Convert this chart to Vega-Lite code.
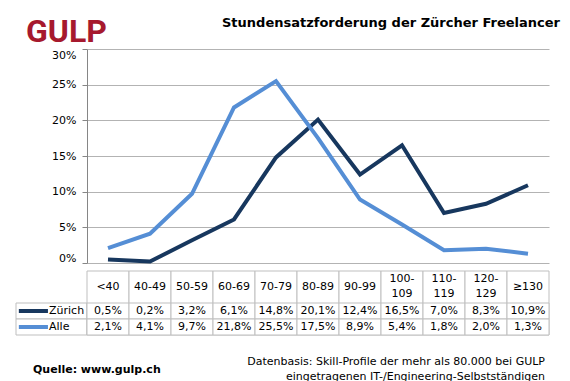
{
  "$schema": "https://vega.github.io/schema/vega-lite/v6.json",
  "background": "white",
  "padding": {"left": 15, "top": 16, "right": 10, "bottom": 5},
  "config": {
    "font": "DejaVu Sans",
    "locale": {"number": {"decimal": ",", "thousands": ".", "grouping": [3], "currency": ["", " CHF"]}},
    "view": {"stroke": null},
    "text": {"font": "DejaVu Sans", "fontSize": 11, "color": "#000000"}
  },
  "datasets": {
    "rates": [
      {"cat": "<40", "label": "<40", "series": "Zürich", "value": 0.005},
      {"cat": "40-49", "label": "40-49", "series": "Zürich", "value": 0.002},
      {"cat": "50-59", "label": "50-59", "series": "Zürich", "value": 0.032},
      {"cat": "60-69", "label": "60-69", "series": "Zürich", "value": 0.061},
      {"cat": "70-79", "label": "70-79", "series": "Zürich", "value": 0.148},
      {"cat": "80-89", "label": "80-89", "series": "Zürich", "value": 0.201},
      {"cat": "90-99", "label": "90-99", "series": "Zürich", "value": 0.124},
      {"cat": "100-109", "label": "100-\n109", "series": "Zürich", "value": 0.165},
      {"cat": "110-119", "label": "110-\n119", "series": "Zürich", "value": 0.070},
      {"cat": "120-129", "label": "120-\n129", "series": "Zürich", "value": 0.083},
      {"cat": "≥130", "label": "≥130", "series": "Zürich", "value": 0.109},
      {"cat": "<40", "label": "<40", "series": "Alle", "value": 0.021},
      {"cat": "40-49", "label": "40-49", "series": "Alle", "value": 0.041},
      {"cat": "50-59", "label": "50-59", "series": "Alle", "value": 0.097},
      {"cat": "60-69", "label": "60-69", "series": "Alle", "value": 0.218},
      {"cat": "70-79", "label": "70-79", "series": "Alle", "value": 0.255},
      {"cat": "80-89", "label": "80-89", "series": "Alle", "value": 0.175},
      {"cat": "90-99", "label": "90-99", "series": "Alle", "value": 0.089},
      {"cat": "100-109", "label": "100-\n109", "series": "Alle", "value": 0.054},
      {"cat": "110-119", "label": "110-\n119", "series": "Alle", "value": 0.018},
      {"cat": "120-129", "label": "120-\n129", "series": "Alle", "value": 0.020},
      {"cat": "≥130", "label": "≥130", "series": "Alle", "value": 0.013}
    ]
  },
  "spacing": 0,
  "vconcat": [
    {
      "bounds": "flush",
      "spacing": 0,
      "hconcat": [
        {
          "width": 71,
          "height": 214,
          "title": {
            "text": "GULP", "anchor": "start", "frame": "group",
            "font": "Roboto", "fontSize": 32, "fontWeight": "bold", "color": "#a6192e",
            "baseline": "alphabetic", "offset": -25, "dx": 10
          },
          "data": {"values": []},
          "mark": "point"
        },
        {
          "width": 462,
          "height": 214,
          "title": {
            "text": "Stundensatzforderung der Zürcher Freelancer",
            "anchor": "end", "frame": "group", "fontSize": 13, "fontWeight": "bold",
            "color": "#000000", "baseline": "alphabetic", "offset": 9, "dx": 11
          },
          "data": {"name": "rates"},
          "mark": {"type": "line", "strokeWidth": 4},
          "encoding": {
            "x": {
              "field": "cat", "type": "nominal",
              "sort": ["<40", "40-49", "50-59", "60-69", "70-79", "80-89", "90-99", "100-109", "110-119", "120-129", "≥130"],
              "scale": {"type": "point", "padding": 0.5},
              "axis": null
            },
            "y": {
              "field": "value", "type": "quantitative",
              "scale": {"domain": [0, 0.3]},
              "axis": {
                "format": ".0%", "values": [0, 0.05, 0.1, 0.15, 0.2, 0.25, 0.3], "title": null,
                "grid": true, "gridColor": "#b3b3b3", "domainColor": "#868686", "tickColor": "#868686",
                "tickSize": 5, "labelPadding": 6, "labelFontSize": 11, "labelFont": "DejaVu Sans",
                "labelColor": "#000000", "labelFlush": true
              }
            },
            "color": {
              "field": "series", "type": "nominal",
              "scale": {"domain": ["Zürich", "Alle"], "range": ["#17375e", "#558ed5"]},
              "legend": null
            }
          }
        }
      ]
    },
    {
      "bounds": "flush",
      "spacing": 0,
      "hconcat": [
        {
          "width": 71,
          "height": 64,
          "data": {"name": "rates"},
          "transform": [{"filter": "datum.cat === '<40'"}],
          "title": {
            "text": "Quelle: www.gulp.ch", "orient": "bottom", "anchor": "start", "frame": "group",
            "fontSize": 11, "fontWeight": "bold", "color": "#000000", "offset": 28, "dx": 17
          },
          "encoding": {
            "y": {
              "field": "series", "type": "nominal",
              "scale": {"type": "band", "domain": ["h1", "h2", "Zürich", "Alle"], "paddingInner": 0, "paddingOuter": 0},
              "axis": null
            }
          },
          "layer": [
            {"mark": {"type": "rect", "fill": "white", "stroke": "#bfbfbf", "strokeWidth": 1}},
            {
              "mark": {"type": "rule", "strokeWidth": 4},
              "encoding": {
                "x": {"datum": 0.04, "type": "quantitative", "scale": {"domain": [0, 1]}, "axis": null},
                "x2": {"datum": 0.45},
                "color": {
                  "field": "series", "type": "nominal",
                  "scale": {"domain": ["Zürich", "Alle"], "range": ["#17375e", "#558ed5"]},
                  "legend": null
                }
              }
            },
            {
              "mark": {"type": "text", "align": "left"},
              "encoding": {
                "x": {"datum": 0.465, "type": "quantitative"},
                "text": {"field": "series"}
              }
            }
          ]
        },
        {
          "width": 462,
          "height": 64,
          "data": {"name": "rates"},
          "title": {
            "text": ["Datenbasis: Skill-Profile der mehr als 80.000 bei GULP", "eingetragenen IT-/Engineering-Selbstständigen"],
            "orient": "bottom", "anchor": "end", "frame": "group",
            "fontSize": 11, "fontWeight": "normal", "color": "#000000", "offset": 20, "lineHeight": 15, "dx": -4
          },
          "encoding": {
            "x": {
              "field": "cat", "type": "nominal",
              "sort": ["<40", "40-49", "50-59", "60-69", "70-79", "80-89", "90-99", "100-109", "110-119", "120-129", "≥130"],
              "scale": {"type": "band", "paddingInner": 0, "paddingOuter": 0},
              "axis": null
            }
          },
          "layer": [
            {
              "transform": [{"filter": "datum.series === 'Zürich'"}],
              "mark": {"type": "rect", "fill": "white", "stroke": "#bfbfbf", "strokeWidth": 1}
            },
            {
              "mark": {"type": "rect", "fill": "white", "stroke": "#bfbfbf", "strokeWidth": 1},
              "encoding": {
                "y": {
                  "field": "series", "type": "nominal",
                  "scale": {"type": "band", "domain": ["h1", "h2", "Zürich", "Alle"], "paddingInner": 0, "paddingOuter": 0},
                  "axis": null
                }
              }
            },
            {
              "transform": [{"filter": "datum.series === 'Zürich' && length(datum.cat) <= 5"}],
              "mark": {"type": "text", "baseline": "middle"},
              "encoding": {
                "y": {"datum": "h1", "type": "nominal", "bandPosition": 1},
                "text": {"field": "label"}
              }
            },
            {
              "transform": [{"filter": "datum.series === 'Zürich' && length(datum.cat) > 5"}],
              "mark": {"type": "text", "lineBreak": "\n", "baseline": "middle", "lineHeight": 15, "dy": -8},
              "encoding": {
                "y": {"datum": "h1", "type": "nominal", "bandPosition": 1},
                "text": {"field": "label"}
              }
            },
            {
              "mark": {"type": "text", "baseline": "middle"},
              "encoding": {
                "y": {"field": "series", "type": "nominal"},
                "text": {"field": "value", "type": "quantitative", "format": ".1%"}
              }
            }
          ]
        }
      ]
    }
  ]
}
